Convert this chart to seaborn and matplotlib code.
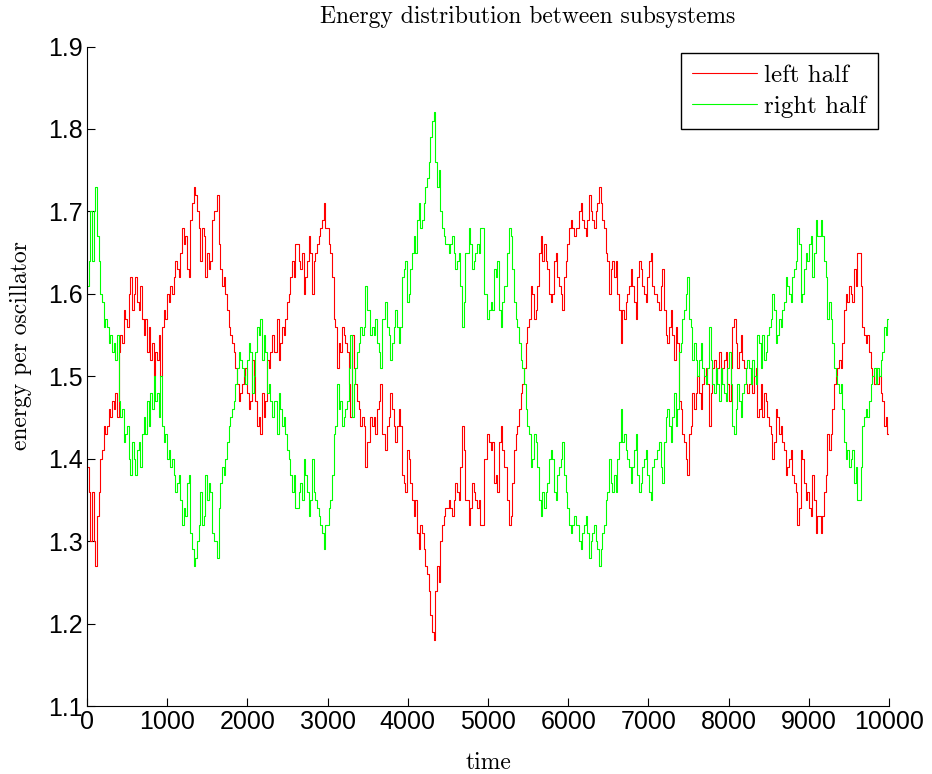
import matplotlib.pyplot as plt
import numpy as np
import seaborn as sns

sns.set_theme(style="white")
plt.rcParams['font.family'] = ['Liberation Sans', 'DejaVu Sans']
plt.rcParams.update({'text.color': 'black', 'axes.labelcolor': 'black',
                     'xtick.color': 'black', 'ytick.color': 'black'})

T_START = 0
T_END = 10000

# energy per oscillator in the left half (uniform time steps)
left_half = [
    1.39, 1.36, 1.30, 1.36, 1.30, 1.27, 1.33, 1.36, 1.40, 1.41,
    1.44, 1.43, 1.44, 1.46, 1.45, 1.47, 1.46, 1.48, 1.45, 1.53,
    1.55, 1.54, 1.58, 1.57, 1.56, 1.60, 1.62, 1.58, 1.60, 1.62,
    1.59, 1.58, 1.61, 1.57, 1.55, 1.57, 1.53, 1.56, 1.52, 1.54,
    1.50, 1.53, 1.52, 1.55, 1.50, 1.56, 1.58, 1.57, 1.60, 1.59,
    1.61, 1.60, 1.62, 1.64, 1.63, 1.62, 1.65, 1.68, 1.66, 1.67,
    1.63, 1.62, 1.69, 1.71, 1.73, 1.72, 1.70, 1.68, 1.64, 1.68,
    1.67, 1.62, 1.65, 1.63, 1.64, 1.69, 1.70, 1.70, 1.72, 1.66,
    1.63, 1.61, 1.62, 1.60, 1.58, 1.56, 1.55, 1.54, 1.53, 1.51,
    1.49, 1.47, 1.48, 1.49, 1.50, 1.51, 1.48, 1.46, 1.47, 1.52,
    1.50, 1.47, 1.44, 1.45, 1.43, 1.48, 1.45, 1.47, 1.52, 1.51,
    1.53, 1.55, 1.53, 1.53, 1.57, 1.52, 1.54,
    # ~2400 .. 4900
    1.56, 1.55, 1.57, 1.59, 1.60, 1.62, 1.64, 1.62, 1.66, 1.66,
    1.64, 1.63, 1.65, 1.60, 1.62, 1.64, 1.67, 1.65, 1.60, 1.64,
    1.65, 1.66, 1.67, 1.68, 1.69, 1.71, 1.68, 1.68, 1.66, 1.65,
    1.62, 1.57, 1.56, 1.51, 1.54, 1.53, 1.56, 1.55, 1.54, 1.53,
    1.49, 1.45, 1.55, 1.51, 1.49, 1.47, 1.46, 1.44, 1.45, 1.44,
    1.39, 1.42, 1.42, 1.45, 1.44, 1.45, 1.43, 1.46, 1.47, 1.49,
    1.43, 1.43, 1.41, 1.44, 1.45, 1.48, 1.46, 1.44, 1.42, 1.44,
    1.46, 1.44, 1.38, 1.37, 1.36, 1.41, 1.40, 1.37, 1.35, 1.33,
    1.35, 1.31, 1.29, 1.32, 1.31, 1.29, 1.27, 1.26, 1.24, 1.21,
    1.19, 1.18, 1.24, 1.27, 1.25, 1.30, 1.32, 1.33, 1.34, 1.34,
    1.35, 1.34, 1.33, 1.35, 1.37, 1.36, 1.35, 1.39, 1.44, 1.41,
    1.35, 1.35, 1.32, 1.34, 1.37, 1.36, 1.35, 1.34, 1.35, 1.32,
    # ~4900 .. 7400
    1.32, 1.40, 1.40, 1.43, 1.42, 1.41, 1.42, 1.37, 1.38, 1.36,
    1.42, 1.44, 1.41, 1.39, 1.39, 1.35, 1.32, 1.33, 1.37, 1.41,
    1.43, 1.44, 1.46, 1.48, 1.49, 1.51, 1.54, 1.56, 1.57, 1.61,
    1.60, 1.57, 1.58, 1.61, 1.65, 1.67, 1.64, 1.66, 1.64, 1.63,
    1.60, 1.59, 1.60, 1.64, 1.65, 1.62, 1.61, 1.60, 1.58, 1.62,
    1.64, 1.66, 1.68, 1.69, 1.68, 1.67, 1.68, 1.68, 1.70, 1.71,
    1.69, 1.68, 1.67, 1.69, 1.72, 1.70, 1.69, 1.68, 1.70, 1.71,
    1.73, 1.71, 1.69, 1.68, 1.65, 1.64, 1.60, 1.63, 1.64, 1.62,
    1.64, 1.60, 1.58, 1.54, 1.58, 1.57, 1.59, 1.60, 1.61, 1.63,
    1.61, 1.59, 1.57, 1.62, 1.64, 1.63, 1.61, 1.60, 1.59, 1.62,
    1.64, 1.65, 1.61, 1.60, 1.60, 1.59, 1.58, 1.61, 1.63, 1.58,
    1.55, 1.54, 1.56, 1.58, 1.55, 1.52, 1.56, 1.54, 1.47, 1.46,
    # ~7400 .. 10000
    1.43, 1.42, 1.40, 1.38, 1.43, 1.44, 1.48, 1.46, 1.48, 1.50,
    1.48, 1.46, 1.49, 1.50, 1.51, 1.49, 1.44, 1.48, 1.51, 1.52,
    1.49, 1.51, 1.53, 1.49, 1.51, 1.52, 1.53, 1.49, 1.47, 1.51,
    1.56, 1.57, 1.54, 1.51, 1.53, 1.55, 1.52, 1.51, 1.49, 1.48,
    1.49, 1.51, 1.48, 1.50, 1.51, 1.45, 1.46, 1.49, 1.45, 1.48,
    1.47, 1.45, 1.44, 1.43, 1.40, 1.42, 1.46, 1.45, 1.43, 1.44,
    1.42, 1.41, 1.38, 1.39, 1.40, 1.41, 1.38, 1.37, 1.36, 1.32,
    1.34, 1.41, 1.40, 1.37, 1.35, 1.36, 1.34, 1.33, 1.38, 1.35,
    1.31, 1.33, 1.33, 1.31, 1.33, 1.36, 1.38, 1.43, 1.41, 1.43,
    1.46, 1.49, 1.50, 1.51, 1.52, 1.51, 1.54, 1.58, 1.60, 1.59,
    1.61, 1.60, 1.59, 1.63, 1.61, 1.65, 1.65, 1.61, 1.56, 1.55,
    1.54, 1.55, 1.53, 1.51, 1.50, 1.49, 1.51, 1.49, 1.50, 1.48,
    1.47, 1.44, 1.45, 1.43, 1.44,
]

# energy per oscillator in the right half
right_half = [
    1.61, 1.64, 1.70, 1.64, 1.70, 1.73, 1.67, 1.64, 1.60, 1.59,
    1.56, 1.57, 1.56, 1.54, 1.55, 1.53, 1.54, 1.52, 1.55, 1.47,
    1.45, 1.46, 1.42, 1.43, 1.44, 1.40, 1.38, 1.42, 1.40, 1.38,
    1.41, 1.42, 1.39, 1.43, 1.45, 1.43, 1.47, 1.44, 1.48, 1.46,
    1.50, 1.47, 1.48, 1.45, 1.50, 1.44, 1.42, 1.43, 1.40, 1.41,
    1.39, 1.40, 1.38, 1.36, 1.37, 1.38, 1.35, 1.32, 1.34, 1.33,
    1.37, 1.38, 1.31, 1.29, 1.27, 1.28, 1.30, 1.32, 1.36, 1.32,
    1.33, 1.38, 1.35, 1.37, 1.36, 1.31, 1.30, 1.30, 1.28, 1.34,
    1.37, 1.39, 1.38, 1.40, 1.42, 1.44, 1.45, 1.46, 1.47, 1.49,
    1.51, 1.53, 1.52, 1.51, 1.50, 1.49, 1.52, 1.54, 1.53, 1.48,
    1.50, 1.53, 1.56, 1.55, 1.57, 1.52, 1.55, 1.53, 1.48, 1.49,
    1.47, 1.45, 1.47, 1.47, 1.43, 1.48, 1.46,
    # ~2400 .. 4900
    1.44, 1.45, 1.43, 1.41, 1.40, 1.38, 1.36, 1.38, 1.34, 1.34,
    1.36, 1.37, 1.35, 1.40, 1.38, 1.36, 1.33, 1.35, 1.40, 1.36,
    1.35, 1.34, 1.33, 1.32, 1.31, 1.29, 1.32, 1.32, 1.34, 1.35,
    1.38, 1.43, 1.44, 1.49, 1.46, 1.47, 1.44, 1.45, 1.46, 1.47,
    1.51, 1.55, 1.45, 1.49, 1.51, 1.53, 1.54, 1.56, 1.55, 1.56,
    1.61, 1.58, 1.58, 1.55, 1.56, 1.55, 1.57, 1.54, 1.53, 1.51,
    1.57, 1.57, 1.59, 1.56, 1.55, 1.52, 1.54, 1.56, 1.58, 1.56,
    1.54, 1.56, 1.62, 1.63, 1.64, 1.59, 1.60, 1.63, 1.65, 1.67,
    1.65, 1.69, 1.71, 1.68, 1.69, 1.71, 1.73, 1.74, 1.76, 1.79,
    1.81, 1.82, 1.76, 1.73, 1.75, 1.70, 1.68, 1.67, 1.66, 1.66,
    1.65, 1.66, 1.67, 1.65, 1.63, 1.64, 1.65, 1.61, 1.56, 1.59,
    1.65, 1.65, 1.68, 1.66, 1.63, 1.64, 1.65, 1.66, 1.65, 1.68,
    # ~4900 .. 7400
    1.68, 1.60, 1.60, 1.57, 1.58, 1.59, 1.58, 1.63, 1.62, 1.64,
    1.58, 1.56, 1.59, 1.61, 1.61, 1.65, 1.68, 1.67, 1.63, 1.59,
    1.57, 1.56, 1.54, 1.52, 1.51, 1.49, 1.46, 1.44, 1.43, 1.39,
    1.40, 1.43, 1.42, 1.39, 1.35, 1.33, 1.36, 1.34, 1.36, 1.37,
    1.40, 1.41, 1.40, 1.36, 1.35, 1.38, 1.39, 1.40, 1.42, 1.38,
    1.36, 1.34, 1.32, 1.31, 1.32, 1.33, 1.32, 1.32, 1.30, 1.29,
    1.31, 1.32, 1.33, 1.31, 1.28, 1.30, 1.31, 1.32, 1.30, 1.29,
    1.27, 1.29, 1.31, 1.32, 1.35, 1.36, 1.40, 1.37, 1.36, 1.38,
    1.36, 1.40, 1.42, 1.46, 1.42, 1.43, 1.41, 1.40, 1.39, 1.37,
    1.39, 1.41, 1.43, 1.38, 1.36, 1.37, 1.39, 1.40, 1.41, 1.38,
    1.36, 1.35, 1.39, 1.40, 1.40, 1.41, 1.42, 1.39, 1.37, 1.42,
    1.45, 1.46, 1.44, 1.42, 1.45, 1.48, 1.44, 1.46, 1.53, 1.54,
    # ~7400 .. 10000
    1.57, 1.58, 1.60, 1.62, 1.57, 1.56, 1.52, 1.54, 1.52, 1.50,
    1.52, 1.54, 1.51, 1.50, 1.49, 1.51, 1.56, 1.52, 1.49, 1.48,
    1.51, 1.49, 1.47, 1.51, 1.49, 1.48, 1.47, 1.51, 1.53, 1.49,
    1.44, 1.43, 1.46, 1.49, 1.47, 1.45, 1.48, 1.49, 1.51, 1.52,
    1.51, 1.49, 1.52, 1.50, 1.49, 1.55, 1.54, 1.51, 1.55, 1.52,
    1.53, 1.55, 1.56, 1.57, 1.60, 1.58, 1.54, 1.55, 1.57, 1.56,
    1.58, 1.59, 1.62, 1.61, 1.60, 1.59, 1.62, 1.63, 1.64, 1.68,
    1.66, 1.59, 1.60, 1.63, 1.65, 1.64, 1.66, 1.67, 1.62, 1.65,
    1.69, 1.67, 1.67, 1.69, 1.67, 1.64, 1.62, 1.57, 1.59, 1.57,
    1.54, 1.51, 1.50, 1.49, 1.48, 1.49, 1.46, 1.42, 1.40, 1.41,
    1.39, 1.40, 1.41, 1.37, 1.39, 1.35, 1.35, 1.39, 1.44, 1.45,
    1.46, 1.45, 1.47, 1.49, 1.50, 1.51, 1.49, 1.51, 1.50, 1.52,
    1.53, 1.56, 1.55, 1.57, 1.56,
]

time = np.linspace(T_START, T_END, len(left_half))

x_ticks = list(range(0, 10001, 1000))
y_ticks = [1.1, 1.2, 1.3, 1.4, 1.5, 1.6, 1.7, 1.8, 1.9]

SERIF = 'cmr10'

fig = plt.figure(figsize=(9.32, 7.74), dpi=100)
ax = fig.add_axes([87 / 932, 1 - 706 / 774, 802 / 932, 659.5 / 774])

sns.lineplot(x=time, y=left_half, color='#ff0000', linewidth=0.8,
             drawstyle='steps-post', label='left half', ax=ax)
sns.lineplot(x=time, y=right_half, color='#00ff00', linewidth=0.8,
             drawstyle='steps-post', label='right half', ax=ax)

ax.set_xlim(0, 10000)
ax.set_ylim(1.1, 1.9)
ax.set_xticks(x_ticks)
ax.set_yticks(y_ticks)
ax.set_yticklabels([f'{v:.1f}' for v in y_ticks])
ax.tick_params(direction='in', length=6, width=0.8, color='black',
               labelcolor='black', labelsize=18, pad=3, top=False,
               right=False, left=True, bottom=True)

for side in ['top', 'right']:
    ax.spines[side].set_visible(False)
for side in ['left', 'bottom']:
    ax.spines[side].set_color('black')
    ax.spines[side].set_linewidth(0.8)

ax.set_title('Energy distribution between subsystems', fontfamily=SERIF,
             fontsize=17, x=0.55, pad=17, color='black')
ax.set_xlabel('time', fontfamily=SERIF, fontsize=17)
ax.set_ylabel('energy per oscillator', fontfamily=SERIF, fontsize=17)
ax.xaxis.set_label_coords(0.5, -0.07)
ax.yaxis.set_label_coords(-0.068, 0.546)

leg = ax.legend(loc='upper right', bbox_to_anchor=(0.986, 0.99),
                prop={'family': SERIF, 'size': 18}, frameon=True,
                fancybox=False, framealpha=1, edgecolor='black',
                borderaxespad=0, handlelength=2.6, handletextpad=0.3,
                labelspacing=0.35, borderpad=0.45)
leg.get_frame().set_linewidth(1.0)
for text in leg.get_texts():
    text.set_color('black')

fig.savefig('out.png', dpi=100)
